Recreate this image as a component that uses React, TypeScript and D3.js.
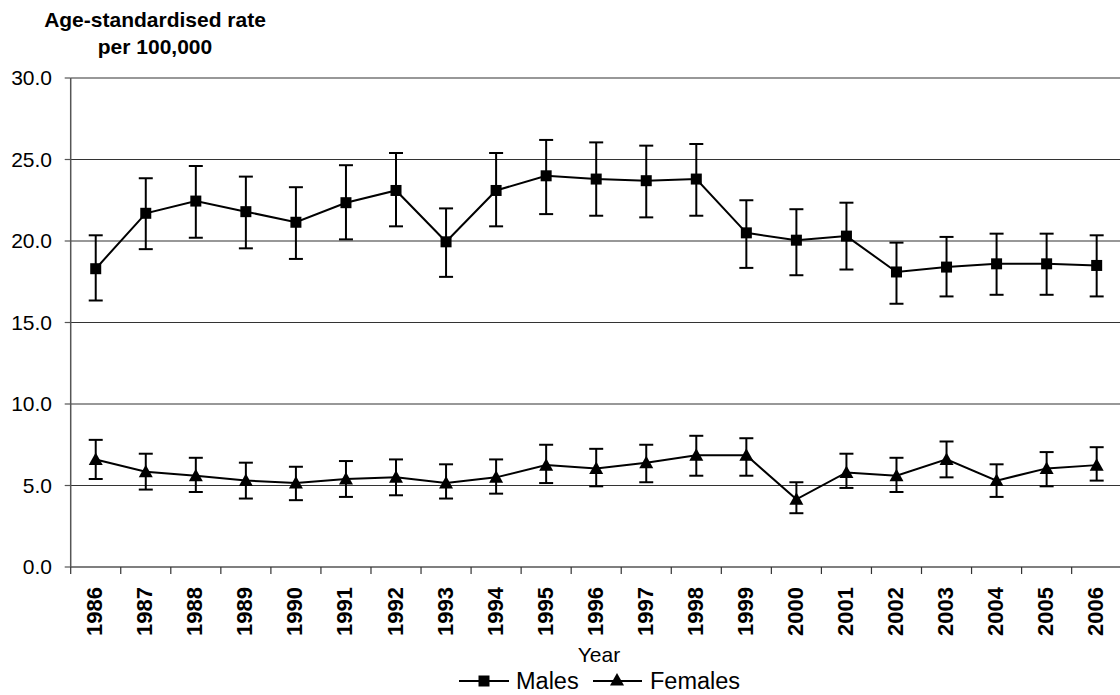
import React from "react";
import * as d3 from "d3";

const years = [
  "1986", "1987", "1988", "1989", "1990", "1991", "1992", "1993", "1994", "1995", "1996",
  "1997", "1998", "1999", "2000", "2001", "2002", "2003", "2004", "2005", "2006",
];

const malesRate = [18.3, 21.7, 22.45, 21.8, 21.15, 22.35, 23.1, 19.95, 23.1, 24.0, 23.8, 23.7, 23.8, 20.5, 20.05, 20.3, 18.1, 18.4, 18.6, 18.6, 18.5];
const malesLow = [16.35, 19.5, 20.2, 19.55, 18.9, 20.1, 20.9, 17.8, 20.9, 21.65, 21.55, 21.45, 21.55, 18.35, 17.9, 18.25, 16.15, 16.6, 16.7, 16.7, 16.6];
const malesHigh = [20.35, 23.85, 24.6, 23.95, 23.3, 24.65, 25.4, 22.0, 25.4, 26.2, 26.05, 25.85, 25.95, 22.5, 21.95, 22.35, 19.9, 20.25, 20.45, 20.45, 20.35];

const femalesRate = [6.6, 5.85, 5.6, 5.3, 5.15, 5.4, 5.5, 5.15, 5.5, 6.25, 6.05, 6.4, 6.85, 6.85, 4.15, 5.8, 5.6, 6.6, 5.3, 6.05, 6.25];
const femalesLow = [5.4, 4.75, 4.6, 4.2, 4.1, 4.3, 4.4, 4.2, 4.5, 5.15, 4.95, 5.2, 5.6, 5.6, 3.3, 4.85, 4.6, 5.5, 4.3, 4.95, 5.3];
const femalesHigh = [7.8, 6.95, 6.7, 6.4, 6.15, 6.5, 6.6, 6.3, 6.6, 7.5, 7.25, 7.5, 8.05, 7.9, 5.2, 6.95, 6.7, 7.7, 6.3, 7.05, 7.35];

const yTicks = [0, 5, 10, 15, 20, 25, 30];

const FONT = "Arial, 'Liberation Sans', sans-serif";

export default function App() {
  const width = 1120;
  const height = 695;
  const left = 70.7;
  const right = 1121.7;
  const top = 78;
  const bottom = 567;

  const x = d3.scaleBand().domain(years).range([left, right]).padding(0);
  const y = d3.scaleLinear().domain([0, 30]).range([bottom, top]);
  const cx = (yr: string) => x(yr)! + x.bandwidth() / 2;

  const line = d3
    .line<number>()
    .x((_, i) => cx(years[i]))
    .y((d) => y(d));

  const series = [
    { name: "Males", rate: malesRate, low: malesLow, high: malesHigh, marker: "square" },
    { name: "Females", rate: femalesRate, low: femalesLow, high: femalesHigh, marker: "triangle" },
  ];

  const marker = (kind: string, px: number, py: number, key?: string | number) =>
    kind === "square" ? (
      <rect key={key} x={px - 5.5} y={py - 5.5} width={11} height={11} fill="#000" />
    ) : (
      <path key={key} d={`M${px},${py - 7}L${px + 7},${py + 5.5}L${px - 7},${py + 5.5}Z`} fill="#000" />
    );

  return (
    <svg
      width={width}
      height={height}
      style={{ position: "absolute", left: 0, top: 0, background: "#fff" }}
      fontFamily={FONT}
    >
      {/* title */}
      <text x={155} y={27} textAnchor="middle" fontWeight="bold" fontSize={21}>
        Age-standardised rate
      </text>
      <text x={155} y={54} textAnchor="middle" fontWeight="bold" fontSize={21}>
        per 100,000
      </text>

      {/* gridlines + y ticks */}
      {yTicks.map((t) => (
        <g key={t}>
          {t > 0 && (
            <line x1={left} x2={width} y1={y(t)} y2={y(t)} stroke="#333" strokeWidth={1.2} />
          )}
          <line x1={left - 6} x2={left} y1={y(t)} y2={y(t)} stroke="#555" strokeWidth={1.2} />
          <text x={52} y={y(t)} dy="0.35em" textAnchor="end" fontSize={21}>
            {t.toFixed(1)}
          </text>
        </g>
      ))}

      {/* axes */}
      <line x1={left} x2={left} y1={top} y2={bottom} stroke="#555" strokeWidth={1.5} />
      <line x1={left} x2={width} y1={bottom} y2={bottom} stroke="#555" strokeWidth={1.5} />
      {years.map((yr) => (
        <line key={"t" + yr} x1={x(yr)!} x2={x(yr)!} y1={bottom} y2={bottom + 7} stroke="#333" strokeWidth={1.2} />
      ))}
      {years.map((yr) => (
        <text
          key={"l" + yr}
          transform={`translate(${cx(yr) + 6.5},${587}) rotate(-90)`}
          textAnchor="end"
          fontWeight="bold"
          fontSize={22}
        >
          {yr}
        </text>
      ))}
      <text x={599} y={662} textAnchor="middle" fontSize={21}>
        Year
      </text>

      {/* series */}
      {series.map((s) => (
        <g key={s.name}>
          {s.rate.map((v, i) => {
            const px = cx(years[i]);
            return (
              <g key={i} stroke="#000" strokeWidth={2}>
                <line x1={px} x2={px} y1={y(s.low[i])} y2={y(s.high[i])} />
                <line x1={px - 7} x2={px + 7} y1={y(s.low[i])} y2={y(s.low[i])} />
                <line x1={px - 7} x2={px + 7} y1={y(s.high[i])} y2={y(s.high[i])} />
              </g>
            );
          })}
          <path d={line(s.rate)!} fill="none" stroke="#000" strokeWidth={2} />
          {s.rate.map((v, i) => marker(s.marker, cx(years[i]), y(v), i))}
        </g>
      ))}

      {/* legend */}
      <line x1={459} x2={509} y1={681} y2={681} stroke="#000" strokeWidth={2} />
      {marker("square", 484, 681)}
      <text x={516} y={689} fontSize={23.5}>
        Males
      </text>
      <line x1={593} x2={642} y1={681} y2={681} stroke="#000" strokeWidth={2} />
      {marker("triangle", 617, 680)}
      <text x={650} y={689} fontSize={23.5}>
        Females
      </text>
    </svg>
  );
}
